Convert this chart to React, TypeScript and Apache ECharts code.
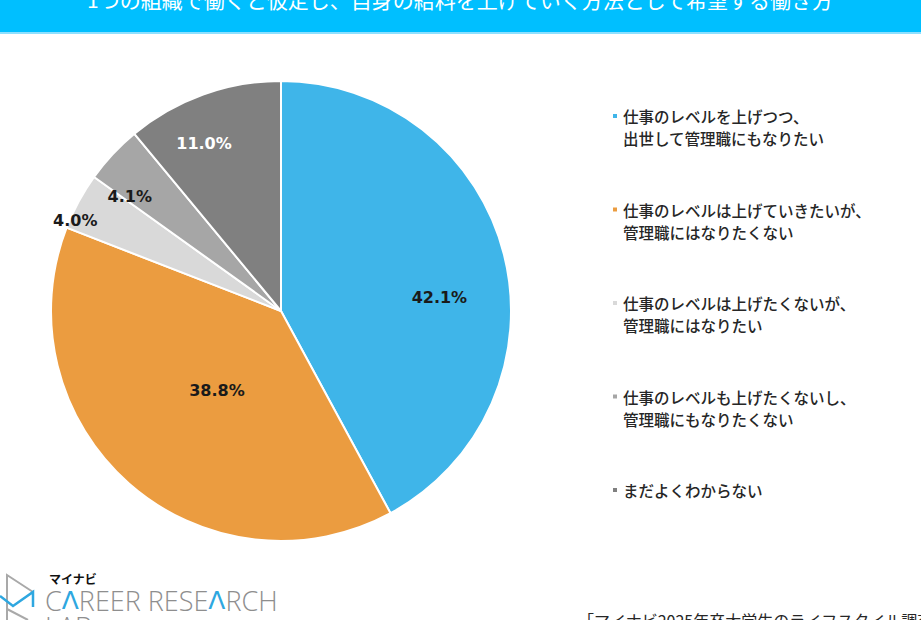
import React, { useEffect, useRef } from "react";
import * as echarts from "echarts";

// answer categories (legend order = slice order, clockwise from 12 o'clock)
const categories = [
  "仕事のレベルを上げつつ、\n出世して管理職にもなりたい",
  "仕事のレベルは上げていきたいが、\n管理職にはなりたくない",
  "仕事のレベルは上げたくないが、\n管理職にはなりたい",
  "仕事のレベルも上げたくないし、\n管理職にもなりたくない",
  "まだよくわからない",
];
// share of respondents (%)
const shares = [42.1, 38.8, 4.0, 4.1, 11.0];
const sliceColors = ["#3FB5E9", "#EB9C40", "#D9D9D9", "#A6A6A6", "#808080"];
const labelColors = ["#1a1a1a", "#1a1a1a", "#1a1a1a", "#1a1a1a", "#ffffff"];
// nudges of the value labels away from the default inside spot
const labelNudge = [
  [44, 15],
  [14, -9],
  [-102, -34],
  [-65, -34],
  [-37, -56],
];

const titleText = "1つの組織で働くと仮定し、自身の給料を上げていく方法として希望する働き方";
const sourceText = "「マイナビ2025年卒大学生のライフスタイル調査」";

const App: React.FC = () => {
  const chartRef = useRef<HTMLDivElement>(null);

  useEffect(() => {
    document.body.style.margin = "0";
    if (!chartRef.current) return;
    const chart = echarts.init(chartRef.current, null, { renderer: "svg" });

    chart.setOption({
      animation: false,
      backgroundColor: "#ffffff",
      color: sliceColors,
      legend: {
        orient: "vertical",
        left: 611,
        top: 83,
        padding: 0,
        itemGap: 27.5,
        itemWidth: 6,
        itemHeight: 6,
        icon: "rect",
        selectedMode: false,
        data: categories,
        // pad every entry to three lines so the marker sits level with the first line
        formatter: (name: string) =>
          name.includes("\n") ? "\n" + name : "\n" + name + "\n",
        textStyle: {
          fontFamily: "Noto Sans CJK JP",
          fontWeight: 500,
          fontSize: 15.5,
          lineHeight: 22,
          color: "#262626",
        },
      },
      graphic: [
        {
          type: "rect",
          shape: { x: 0, y: 0, width: 921, height: 32 },
          style: { fill: "#00BFFF" },
          silent: true,
        },
        {
          type: "rect",
          shape: { x: 0, y: 32, width: 921, height: 2 },
          style: { fill: "#8EE0FF" },
          silent: true,
        },
        {
          type: "text",
          x: 460,
          y: -1,
          style: {
            text: titleText,
            fill: "#ffffff",
            font: '21px "Noto Sans CJK JP"',
            textAlign: "center",
            textVerticalAlign: "middle",
          },
        },
        // logo mark
        {
          type: "polyline",
          shape: { points: [[7, 620], [7, 575], [33, 592]] },
          style: { stroke: "#A9A9A9", lineWidth: 2, fill: null },
        },
        {
          type: "polyline",
          shape: { points: [[7, 609], [28, 620]] },
          style: { stroke: "#A9A9A9", lineWidth: 2, fill: null },
        },
        {
          type: "polyline",
          shape: { points: [[0, 596], [13, 606], [33, 592], [33, 607]] },
          style: { stroke: "#2EA7E0", lineWidth: 2.5, fill: null },
        },
        {
          type: "text",
          x: 49,
          y: 578,
          style: {
            text: "マイナビ",
            fill: "#111111",
            font: 'bold 12px "Noto Sans CJK JP"',
            textVerticalAlign: "middle",
          },
        },
        {
          type: "text",
          x: 45,
          y: 600,
          style: {
            text: "C{b|Λ}REER RESE{b|Λ}RCH",
            fill: "#8E8E8E",
            fontFamily: "Open Sans",
            fontWeight: 300,
            fontSize: 27,
            lineHeight: 22,
            textVerticalAlign: "middle",
            rich: {
              b: {
                fill: "#2EA7E0",
                fontFamily: "DejaVu Sans",
                fontWeight: "normal",
                fontSize: 25,
                lineHeight: 22,
              },
            },
          },
        },
        {
          type: "text",
          x: 45,
          y: 626,
          style: {
            text: "LAB",
            fill: "#8E8E8E",
            fontFamily: "Open Sans",
            fontWeight: 300,
            fontSize: 27,
            lineHeight: 22,
            textVerticalAlign: "middle",
          },
        },
        {
          type: "text",
          x: 578,
          y: 612,
          style: {
            text: sourceText,
            fill: "#262626",
            font: '16px "Noto Sans CJK JP"',
            textVerticalAlign: "top",
          },
        },
      ],
      series: [
        {
          type: "pie",
          center: [281, 311],
          radius: 230,
          startAngle: 90,
          clockwise: true,
          silent: true,
          emphasis: { disabled: true },
          itemStyle: { borderColor: "#ffffff", borderWidth: 2 },
          label: {
            show: true,
            position: "inside",
            fontFamily: "DejaVu Sans",
            fontWeight: "bold",
            fontSize: 16,
            formatter: (p: any) => p.value.toFixed(1) + "%",
          },
          labelLine: { show: false },
          labelLayout: (p: any) => ({
            dx: labelNudge[p.dataIndex][0],
            dy: labelNudge[p.dataIndex][1],
          }),
          data: categories.map((name, i) => ({
            name,
            value: shares[i],
            label: { color: labelColors[i] },
          })),
        },
      ],
    });

    return () => chart.dispose();
  }, []);

  return <div ref={chartRef} style={{ width: "921px", height: "620px" }} />;
};

export default App;
